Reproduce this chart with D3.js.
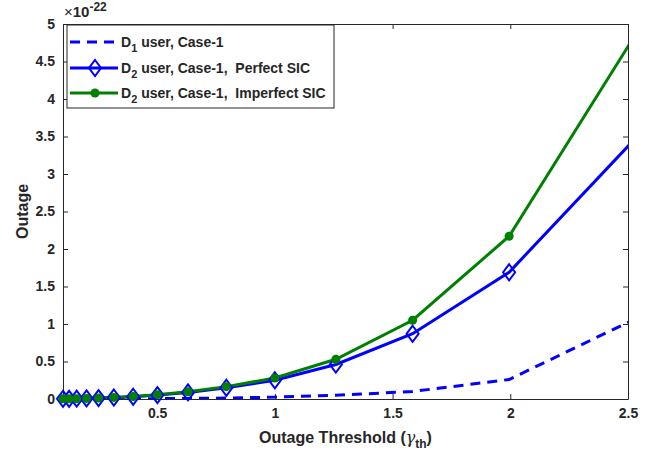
<!DOCTYPE html>
<html>
<head>
<meta charset="utf-8">
<script src="https://cdn.jsdelivr.net/npm/d3@7"></script>
<style>
  body { margin: 0; background: #fff; }
  text { font-family: "Liberation Sans", Arial, sans-serif; font-weight: bold; fill: #262626; white-space: pre; }
</style>
</head>
<body>
<script>
// data (values in units of 1e-22)
var gamma = [0.1, 0.126, 0.158, 0.2, 0.251, 0.316, 0.398, 0.501, 0.631, 0.794, 1, 1.259, 1.585, 1.995, 2.512];
var d1Case1 = [0.0002, 0.0003, 0.0005, 0.0008, 0.001, 0.002, 0.003, 0.005, 0.008, 0.013, 0.025, 0.05, 0.1, 0.26, 1.04];
var d2Perfect = [0.002, 0.003, 0.005, 0.008, 0.012, 0.02, 0.03, 0.052, 0.088, 0.15, 0.25, 0.46, 0.87, 1.69, 3.41];
var d2Imperfect = [0.002, 0.003, 0.005, 0.008, 0.013, 0.021, 0.033, 0.058, 0.097, 0.165, 0.28, 0.53, 1.05, 2.17, 4.76];
var xTicks = [0.5, 1, 1.5, 2, 2.5];
var yTicks = [0, 0.5, 1, 1.5, 2, 2.5, 3, 3.5, 4, 4.5, 5];

var svgWidth = 651;
var svgHeight = 453;
var margin = { top: 24, right: 23, bottom: 54, left: 63 };
var width = svgWidth - margin.left - margin.right;
var height = svgHeight - margin.top - margin.bottom;

var svg = d3.select("body")
  .append("svg")
  .attr("width", svgWidth)
  .attr("height", svgHeight);

var chart = svg.append("g")
  .attr("transform", `translate(${margin.left}, ${margin.top})`);

var x = d3.scaleLinear().domain([0.1, 2.5]).range([0, width]);
var y = d3.scaleLinear().domain([0, 5]).range([height, 0]);

svg.append("defs").append("clipPath").attr("id", "clip")
  .append("rect").attr("width", width).attr("height", height);

var fmt = d => String(d);

// axes, ticks pointing inward, box on all four sides
function styleAxis(g) {
  g.select(".domain").attr("stroke", "#262626").attr("stroke-width", 1);
  g.selectAll(".tick line").attr("stroke", "#262626");
  g.selectAll(".tick text").style("font-size", "14px").attr("fill", "#262626");
}
chart.append("g").attr("transform", `translate(0, ${height})`)
  .call(d3.axisBottom(x).tickValues(xTicks).tickFormat(fmt).tickSizeInner(-5).tickSizeOuter(0).tickPadding(9))
  .call(styleAxis);
chart.append("g")
  .call(d3.axisLeft(y).tickValues(yTicks).tickFormat(fmt).tickSizeInner(-5).tickSizeOuter(0).tickPadding(8))
  .call(styleAxis);
chart.append("g")
  .call(d3.axisTop(x).tickValues(xTicks).tickFormat("").tickSizeInner(-5).tickSizeOuter(0))
  .call(styleAxis);
chart.append("g").attr("transform", `translate(${width}, 0)`)
  .call(d3.axisRight(y).tickValues(yTicks).tickFormat("").tickSizeInner(-5).tickSizeOuter(0))
  .call(styleAxis);

// lines (clipped to the axes), markers only where the point is inside
var plot = chart.append("g").attr("clip-path", "url(#clip)");
function lineOf(vals) {
  return d3.line().x((d, i) => x(gamma[i])).y(d => y(d))(vals);
}
function inside(vals) {
  return vals.map((d, i) => ({ g: gamma[i], v: d })).filter(p => p.g <= 2.5);
}
plot.append("path").attr("d", lineOf(d1Case1))
  .attr("fill", "none").attr("stroke", "#0000ff").attr("stroke-width", 3)
  .attr("stroke-dasharray", "10,7");
plot.append("path").attr("d", lineOf(d2Perfect))
  .attr("fill", "none").attr("stroke", "#0000ff").attr("stroke-width", 3);
chart.selectAll(".dia").data(inside(d2Perfect)).enter().append("path")
  .attr("class", "dia")
  .attr("d", p => {
    var cx = x(p.g), cy = y(p.v), r = 6, h = 8;
    return `M${cx},${cy - h}L${cx + r},${cy}L${cx},${cy + h}L${cx - r},${cy}Z`;
  })
  .attr("fill", "none").attr("stroke", "#0000ff").attr("stroke-width", 2);
plot.append("path").attr("d", lineOf(d2Imperfect))
  .attr("fill", "none").attr("stroke", "#008000").attr("stroke-width", 3);
chart.selectAll(".dot").data(inside(d2Imperfect)).enter().append("circle")
  .attr("cx", p => x(p.g))
  .attr("cy", p => y(p.v))
  .attr("r", 4.5)
  .attr("fill", "#008000");

// axis labels
chart.append("text")
  .attr("transform", `translate(${-35}, ${height / 2}) rotate(-90)`)
  .attr("text-anchor", "middle")
  .style("font-size", "16px")
  .text("Outage");

var xl = chart.append("text")
  .attr("x", width / 2)
  .attr("y", height + 44)
  .attr("text-anchor", "middle")
  .style("font-size", "16px");
xl.append("tspan").text("Outage Threshold (");
xl.append("tspan").style("font-family", "'DejaVu Serif', serif").style("font-style", "italic").style("font-weight", "normal").text("γ");
xl.append("tspan").attr("dy", 5).style("font-size", "12px").text("th");
xl.append("tspan").attr("dy", -5).text(")");

// exponent
var ex = svg.append("text").attr("x", margin.left + 1).attr("y", 17).style("font-size", "15px");
ex.append("tspan").style("font-weight", "normal").text("×");
ex.append("tspan").text("10");
ex.append("tspan").attr("dy", -6).style("font-size", "12px").text("-22");

// legend
var legend = svg.append("g");
legend.append("rect").attr("x", 67).attr("y", 25).attr("width", 267).attr("height", 83)
  .attr("fill", "#fff").attr("stroke", "#262626").attr("stroke-width", 1);
var items = [
  { sub: "1", rest: " user, Case-1", color: "#0000ff", dash: "10,7", mark: "none" },
  { sub: "2", rest: " user, Case-1,  Perfect SIC", color: "#0000ff", dash: null, mark: "diamond" },
  { sub: "2", rest: " user, Case-1,  Imperfect SIC", color: "#008000", dash: null, mark: "circle" }
];
var rows = [42, 68, 93];
items.forEach(function (it, i) {
  var yy = rows[i];
  legend.append("line").attr("x1", 70).attr("x2", 118).attr("y1", yy).attr("y2", yy)
    .attr("stroke", it.color).attr("stroke-width", 3)
    .attr("stroke-dasharray", it.dash);
  if (it.mark == "diamond") {
    legend.append("path").attr("d", `M95,${yy - 8}L101,${yy}L95,${yy + 8}L89,${yy}Z`)
      .attr("fill", "none").attr("stroke", it.color).attr("stroke-width", 2);
  }
  if (it.mark == "circle") {
    legend.append("circle").attr("cx", 95).attr("cy", yy).attr("r", 4.5).attr("fill", it.color);
  }
  var t = legend.append("text").attr("x", 121).attr("y", yy + 5).style("font-size", "14px");
  t.append("tspan").text("D");
  t.append("tspan").attr("dy", 5).style("font-size", "11px").text(it.sub);
  t.append("tspan").attr("dy", -5).text(it.rest);
});
</script>
</body>
</html>
